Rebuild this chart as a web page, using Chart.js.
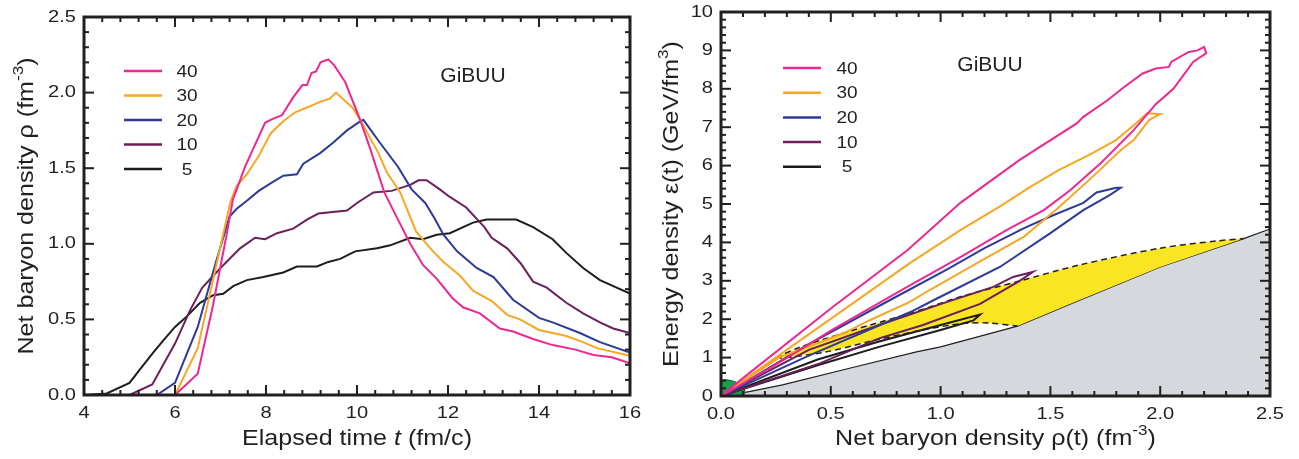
<!DOCTYPE html>
<html>
<head>
<meta charset="utf-8">
<title>Net baryon density and energy density (GiBUU)</title>
<script src="https://cdn.jsdelivr.net/npm/chart.js@4/dist/chart.umd.min.js"></script>
<style>
  html, body { margin: 0; padding: 0; background: #fff; }
  #wrap { position: relative; width: 1299px; height: 459px; }
  #left { position: absolute; left: 0; top: 0; }
  #right { position: absolute; left: 650px; top: 0; }
</style>
</head>
<body>
<div id="wrap">
  <canvas id="left" width="650" height="459"></canvas>
  <canvas id="right" width="649" height="459"></canvas>
</div>
<script>
// beam energies (legend) and their colours
const energies = ['40', '30', '20', '10', '5'];
const colors = ['#ec2891', '#f7a626', '#2d3a97', '#6b1f5c', '#1d1d1b'];

// left panel: elapsed time t (fm/c) vs net baryon density rho (fm^-3)
const rhoT40 = [[4,0],[6,0],[6.5,0.14],[6.84,0.6],[7.14,1.07],[7.27,1.29],[7.54,1.51],[7.72,1.63],[7.98,1.8],[8.1,1.82],[8.35,1.85],[8.6,1.97],[8.8,2.05],[8.9,2.05],[9.0,2.13],[9.1,2.14],[9.2,2.2],[9.37,2.22],[9.5,2.18],[9.74,2.07],[10.07,1.82],[10.3,1.62],[10.6,1.34],[10.9,1.16],[11.17,1.0],[11.45,0.86],[11.75,0.77],[12.1,0.64],[12.33,0.58],[12.7,0.54],[13.14,0.44],[13.43,0.42],[13.87,0.37],[14.3,0.33],[14.8,0.3],[15.2,0.265],[15.6,0.25],[16,0.21]];
const rhoT30 = [[4,0],[6,0],[6.5,0.31],[7.22,1.28],[7.35,1.38],[7.58,1.46],[7.84,1.58],[8.1,1.73],[8.38,1.81],[8.64,1.87],[8.97,1.91],[9.2,1.94],[9.4,1.96],[9.54,2.0],[9.9,1.9],[10.07,1.82],[10.47,1.6],[10.66,1.47],[10.95,1.34],[11.3,1.08],[11.67,0.95],[11.9,0.88],[12.26,0.79],[12.55,0.69],[12.97,0.62],[13.3,0.53],[13.58,0.5],[14.0,0.43],[14.6,0.39],[14.97,0.35],[15.27,0.31],[16,0.26]];
const rhoT20 = [[4,0],[5.6,0],[6.0,0.08],[6.5,0.45],[6.9,0.88],[7.2,1.18],[7.35,1.23],[7.6,1.29],[7.84,1.35],[8.1,1.4],[8.38,1.45],[8.68,1.46],[8.82,1.53],[9.19,1.6],[9.48,1.67],[9.78,1.75],[10.07,1.81],[10.14,1.82],[10.5,1.67],[10.9,1.51],[11.2,1.36],[11.5,1.27],[11.7,1.17],[11.9,1.06],[12.2,0.95],[12.63,0.84],[13.0,0.78],[13.43,0.63],[14.0,0.51],[14.3,0.48],[14.9,0.41],[15.34,0.35],[16,0.28]];
const rhoT10 = [[4,0],[5.0,0],[5.5,0.07],[6.0,0.34],[6.33,0.56],[6.6,0.71],[7.0,0.84],[7.43,0.97],[7.76,1.04],[7.98,1.03],[8.24,1.07],[8.6,1.1],[8.9,1.16],[9.15,1.2],[9.78,1.22],[10.0,1.27],[10.36,1.34],[10.76,1.35],[11.17,1.39],[11.35,1.42],[11.53,1.42],[11.82,1.36],[12.04,1.31],[12.4,1.24],[12.8,1.11],[12.96,1.04],[13.3,0.97],[13.6,0.87],[13.87,0.75],[14.17,0.71],[14.6,0.61],[14.97,0.54],[15.34,0.48],[15.63,0.44],[16,0.41]];
const rhoT5 = [[4,0],[4.5,0.01],[5.0,0.08],[5.23,0.17],[5.52,0.28],[5.74,0.36],[6.0,0.45],[6.26,0.52],[6.55,0.61],[6.84,0.66],[7.06,0.67],[7.28,0.72],[7.58,0.76],[7.94,0.78],[8.38,0.81],[8.68,0.85],[9.12,0.85],[9.37,0.88],[9.63,0.9],[9.96,0.95],[10.44,0.97],[10.73,0.99],[11.17,1.04],[11.45,1.03],[11.75,1.06],[12.04,1.07],[12.55,1.14],[12.85,1.16],[13.5,1.16],[13.87,1.11],[14.3,1.03],[14.6,0.94],[14.97,0.84],[15.34,0.76],[16,0.67]];

// right panel: trajectories rho(t) vs energy density eps(t) (GeV/fm^3)
const traj40 = [[0,0],[0.09,0.42],[0.5,2.28],[0.85,3.8],[1.09,5.03],[1.36,6.15],[1.62,7.1],[1.65,7.27],[1.76,7.7],[1.83,8.02],[1.92,8.4],[1.98,8.53],[2.04,8.57],[2.05,8.7],[2.13,8.96],[2.17,9.0],[2.2,9.09],[2.21,8.93],[2.15,8.7],[2.06,8.0],[1.98,7.6],[1.88,6.93],[1.73,6.07],[1.59,5.36],[1.47,4.84],[1.3,4.32],[1.1,3.65],[0.85,2.85],[0.5,1.7],[0.36,1.2],[0.2,0.65],[0,0]];
const traj30 = [[0,0],[0.1,0.4],[0.86,3.46],[1.09,4.32],[1.28,4.97],[1.41,5.45],[1.54,5.89],[1.69,6.32],[1.8,6.67],[1.89,7.1],[1.94,7.36],[2.0,7.34],[1.95,7.19],[1.88,6.67],[1.82,6.4],[1.69,5.7],[1.54,4.92],[1.38,4.15],[1.19,3.54],[0.95,2.76],[0.86,2.45],[0.68,1.98],[0.56,1.64],[0.36,1.2],[0.27,1.02],[0,0]];
const traj20 = [[0,0],[0.15,0.5],[0.4,1.35],[0.77,2.5],[1.03,3.3],[1.2,3.85],[1.38,4.37],[1.51,4.7],[1.65,5.03],[1.71,5.3],[1.8,5.42],[1.82,5.42],[1.77,5.23],[1.65,4.84],[1.5,4.24],[1.27,3.36],[0.97,2.5],[0.86,2.18],[0.4,1.05],[0,0]];
const traj10 = [[0,0],[0.4,1.2],[0.72,1.85],[1.03,2.45],[1.24,2.84],[1.33,3.1],[1.42,3.23],[1.36,3.0],[1.18,2.4],[0.92,1.85],[0.72,1.5],[0.45,0.85],[0,0]];
const traj5 = [[0,0],[0.44,0.95],[0.72,1.42],[1.0,1.85],[1.18,2.12],[1.15,1.97],[1.0,1.72],[0.72,1.28],[0.44,0.8],[0,0]];

// phase-diagram regions
const grayEdge = [[0,0],[0.1,0.08],[0.28,0.29],[0.59,0.73],[0.89,1.15],[1.0,1.28],[1.35,1.82],[1.6,2.42],[2.0,3.36],[2.38,4.1],[2.5,4.35]];
const yellowTop = [[0.25,1.0],[0.35,1.25],[0.48,1.5],[0.68,1.85],[0.86,2.15],[1.1,2.6],[1.35,2.98],[1.63,3.41],[2.0,3.85],[2.26,4.04],[2.38,4.1]];
const yellowBottom = [[0.25,1.0],[0.28,0.99],[0.48,1.15],[0.7,1.45],[0.9,1.7],[1.05,1.85],[1.13,1.9],[1.22,1.9],[1.35,1.82]];
const yellowArea = [...yellowTop, [2.0,3.36], [1.6,2.42], ...yellowBottom.slice().reverse()];
const greenArea = [[0,0],[0,0.42],[0.03,0.42],[0.06,0.38],[0.09,0.3],[0.105,0.2],[0.11,0.08],[0.1,0],[0,0]];

const FONT = '"Liberation Sans", Arial, Helvetica, sans-serif';
const INK = '#231f20';
Chart.defaults.font.family = FONT;
Chart.defaults.color = INK;

const xy = arr => arr.map(([x, y]) => ({x, y}));

function lineSet(data, color, order) {
  return { data: xy(data), borderColor: color, borderWidth: 2, pointRadius: 0,
           tension: 0, fill: false, order: order };
}

// the figure's lettering runs wider than Arial, so text is stretched along its baseline
function wideText(ctx, text, x, y, size, sx, align, baseline) {
  ctx.save();
  ctx.translate(x, y);
  ctx.scale(sx, 1);
  ctx.font = size + 'px ' + FONT;
  ctx.textAlign = align;
  ctx.textBaseline = baseline;
  ctx.fillStyle = INK;
  ctx.fillText(text, 0, 0);
  ctx.restore();
}

function drawRich(ctx, segs, cx, cy, rotate) {
  const sx = 1.14;
  const font = s => (s.it ? 'italic ' : '') + (s.sup ? '15px ' : '22px ') + FONT;
  let total = 0;
  segs.forEach(s => { ctx.font = font(s); s.w = ctx.measureText(s.t).width; total += s.w; });
  ctx.save();
  ctx.translate(cx, cy);
  if (rotate) ctx.rotate(-Math.PI / 2);
  ctx.scale(sx, 1);
  ctx.textAlign = 'left';
  ctx.textBaseline = 'middle';
  ctx.fillStyle = INK;
  let x = -total / 2;
  segs.forEach(s => { ctx.font = font(s); ctx.fillText(s.t, x, s.sup ? -8 : 0); x += s.w; });
  ctx.restore();
}

// list of tick values between min and max at a given step
function steps(min, max, step) {
  const n = Math.round((max - min) / step);
  const out = [];
  for (let i = 0; i <= n; i++) out.push(min + i * step);
  return out;
}

const isMajor = (v, major) => Math.abs(v / major - Math.round(v / major)) < 1e-6;

// frame with inward major/minor ticks, tick labels, legend inside plot, tag and axis titles
const decor = {
  id: 'decor',
  afterDraw(chart, args, o) {
    const {ctx, chartArea: a} = chart;
    const x = chart.scales.x, y = chart.scales.y;
    const xr = o.xRange, yr = o.yRange;
    ctx.save();
    ctx.fillStyle = INK;
    steps(xr[0], xr[1], xr[3]).forEach(v => {
      const len = isMajor(v, xr[2]) ? 10 : 5;
      const px = x.getPixelForValue(v);
      ctx.fillRect(px - 1, a.bottom - len, 2, len);
      ctx.fillRect(px - 1, a.top, 2, len);
    });
    steps(yr[0], yr[1], yr[3]).forEach(v => {
      const len = isMajor(v, yr[2]) ? 10 : 5;
      const py = y.getPixelForValue(v);
      ctx.fillRect(a.left, py - 1, len, 2);
      ctx.fillRect(a.right - len, py - 1, len, 2);
    });
    ctx.strokeStyle = INK;
    ctx.lineWidth = 3;
    ctx.strokeRect(a.left, a.top, a.right - a.left, a.bottom - a.top);

    // tick labels at the major steps, placed by the scales
    steps(xr[0], xr[1], xr[2]).forEach(v => wideText(ctx, v.toFixed(o.xDec), x.getPixelForValue(v),
                                  a.bottom + 10, 17, 1.18, 'center', 'top'));
    steps(yr[0], yr[1], yr[2]).forEach(v => wideText(ctx, v.toFixed(o.yDec), a.left - 8,
                                  y.getPixelForValue(v), 17, 1.18, 'right', 'middle'));

    // legend
    energies.forEach((lab, i) => {
      const yy = a.top + o.legTop + i * o.legGap;
      ctx.strokeStyle = colors[i];
      ctx.lineWidth = 2.5;
      ctx.beginPath();
      ctx.moveTo(a.left + o.legX0, yy);
      ctx.lineTo(a.left + o.legX1, yy);
      ctx.stroke();
      wideText(ctx, lab, a.left + o.legText, yy + 1, 17, 1.12, 'center', 'middle');
    });
    wideText(ctx, 'GiBUU', a.left + o.tagX, a.top + o.tagY, 21, 1.0, 'center', 'middle');
    ctx.restore();

    drawRich(ctx, o.xTitle, (a.left + a.right) / 2, o.xTitleY, false);
    drawRich(ctx, o.yTitle, o.yTitleX, (a.top + a.bottom) / 2, true);
  }
};

function axes(xr, yr, yWidth, xHeight) {
  return {
    x: { type: 'linear', min: xr[0], max: xr[1],
         grid: { display: false, drawTicks: false }, border: { display: false },
         ticks: { stepSize: xr[2], display: false },
         afterFit: s => { s.height = xHeight; } },
    y: { type: 'linear', min: yr[0], max: yr[1],
         grid: { display: false, drawTicks: false }, border: { display: false },
         ticks: { stepSize: yr[2], display: false },
         afterFit: s => { s.width = yWidth; } }
  };
}

const common = {
  responsive: false,
  animation: false,
  devicePixelRatio: 1,
  plugins: { legend: { display: false }, tooltip: { enabled: false } }
};

// axis ranges: [min, max, major step, minor step]
const leftX = [4, 16, 2, 0.4];
const leftY = [0, 2.5, 0.5, 0.1];
const rightX = [0, 2.5, 0.5, 0.1];
const rightY = [0, 10, 1, 0.2];

new Chart(document.getElementById('left'), {
  type: 'line',
  data: { datasets: [
    lineSet(rhoT40, colors[0], 1),
    lineSet(rhoT30, colors[1], 2),
    lineSet(rhoT20, colors[2], 3),
    lineSet(rhoT10, colors[3], 4),
    lineSet(rhoT5, colors[4], 5)
  ] },
  options: {
    ...common,
    layout: { padding: { left: 0, top: 17, right: 20, bottom: 0 } },
    scales: axes(leftX, leftY, 84, 64),
    plugins: { ...common.plugins,
      decor: { xRange: leftX, yRange: leftY, xDec: 0, yDec: 1,
               legTop: 54, legGap: 24.5, legX0: 40, legX1: 78, legText: 103,
               tagX: 389, tagY: 59,
               xTitle: [{t: 'Elapsed time '}, {t: 't', it: true}, {t: ' (fm/c)'}], xTitleY: 439,
               yTitle: [{t: 'Net baryon density \u03c1 (fm'}, {t: '-3', sup: true}, {t: ')'}], yTitleX: 27 } }
  },
  plugins: [decor]
});

new Chart(document.getElementById('right'), {
  type: 'line',
  data: { datasets: [
    { data: xy(grayEdge), borderColor: INK, borderWidth: 1.2, backgroundColor: '#d5d8dc',
      fill: 'origin', pointRadius: 0, tension: 0, order: 20 },
    { data: xy(yellowArea), borderWidth: 0, borderColor: 'rgba(0,0,0,0)', backgroundColor: '#fae522',
      fill: 'shape', pointRadius: 0, tension: 0, order: 19 },
    { data: xy(yellowTop), borderColor: INK, borderWidth: 1.5, borderDash: [6, 4],
      fill: false, pointRadius: 0, tension: 0.3, order: 18 },
    { data: xy(yellowBottom), borderColor: INK, borderWidth: 1.5, borderDash: [6, 4],
      fill: false, pointRadius: 0, tension: 0.3, order: 18 },
    { data: xy(greenArea), borderColor: '#0b5e2b', borderWidth: 1, backgroundColor: '#12a24b',
      fill: 'shape', pointRadius: 0, tension: 0, order: 17 },
    lineSet(traj40, colors[0], 1),
    lineSet(traj30, colors[1], 2),
    lineSet(traj20, colors[2], 3),
    lineSet(traj10, colors[3], 4),
    lineSet(traj5, colors[4], 5)
  ] },
  options: {
    ...common,
    layout: { padding: { left: 0, top: 12, right: 29, bottom: 0 } },
    scales: axes(rightX, rightY, 71, 63),
    plugins: { ...common.plugins,
      decor: { xRange: rightX, yRange: rightY, xDec: 1, yDec: 0,
               legTop: 56, legGap: 24.7, legX0: 62, legX1: 100, legText: 126,
               tagX: 269, tagY: 53,
               xTitle: [{t: 'Net baryon density \u03c1(t) (fm'}, {t: '-3', sup: true}, {t: ')'}], xTitleY: 439,
               yTitle: [{t: 'Energy density \u03b5(t) (GeV/fm'}, {t: '3', sup: true}, {t: ')'}], yTitleX: 22 } }
  },
  plugins: [decor]
});
</script>
</body>
</html>
